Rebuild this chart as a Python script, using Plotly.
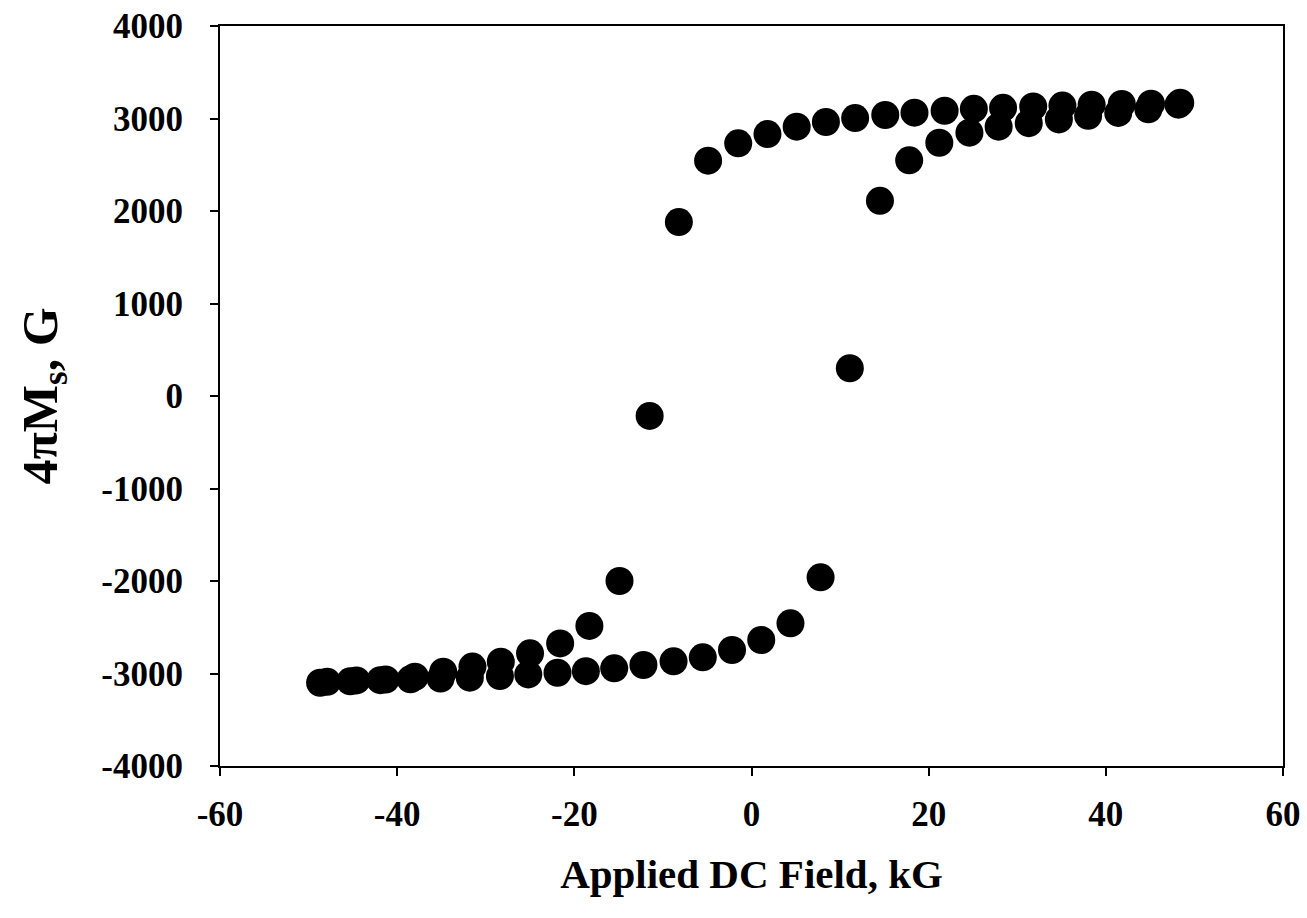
import plotly.graph_objects as go

# Descending branch (field swept from +48 kG down to -48 kG)
field_down = [48.4, 45.1, 41.8, 38.4, 35.1, 31.8, 28.4, 25.1, 21.8, 18.4, 15.1, 11.7, 8.4, 5.1, 1.8,
              -1.5, -4.9, -8.2, -11.5, -14.9, -18.3, -21.6, -25.0, -28.3, -31.5, -34.8, -38.0, -41.3, -44.6, -47.9]
mag_down = [3170, 3160, 3157, 3150, 3140, 3130, 3115, 3105, 3084, 3063, 3038, 3005, 2962, 2912, 2832,
            2732, 2544, 1880, -215, -2000, -2486, -2675, -2782, -2872, -2925, -2981, -3035, -3065, -3075, -3090]

# Ascending branch (field swept from -48 kG up to +48 kG)
field_up = [-48.7, -45.3, -41.9, -38.5, -35.1, -31.8, -28.4, -25.2, -21.9, -18.7, -15.5, -12.2, -8.8, -5.5, -2.2,
            1.1, 4.4, 7.8, 11.1, 14.5, 17.8, 21.2, 24.6, 27.9, 31.3, 34.7, 38.0, 41.4, 44.8, 48.2]
mag_up = [-3100, -3085, -3072, -3063, -3055, -3045, -3028, -3010, -2992, -2975, -2944, -2908, -2868, -2825, -2746,
          -2638, -2458, -1960, 300, 2110, 2548, 2738, 2847, 2912, 2950, 2990, 3030, 3060, 3100, 3150]

x_ticks = [-60, -40, -20, 0, 20, 40, 60]
x_tick_labels = ["-60", "-40", "-20", "0", "20", "40", "60"]
y_ticks = [-4000, -3000, -2000, -1000, 0, 1000, 2000, 3000, 4000]
y_tick_labels = ["-4000", "-3000", "-2000", "-1000", "0", "1000", "2000", "3000", "4000"]

font_family = "Liberation Serif"
marker = dict(color="black", size=28, line=dict(width=0))

fig = go.Figure()
fig.add_trace(go.Scatter(x=field_down, y=mag_down, mode="markers", marker=marker, showlegend=False))
fig.add_trace(go.Scatter(x=field_up, y=mag_up, mode="markers", marker=marker, showlegend=False))

axis_common = dict(
    showgrid=False, zeroline=False, showline=True, linecolor="black", linewidth=2,
    mirror=True, ticks="outside", ticklen=8, tickwidth=2, tickcolor="black",
    ticklabeloverflow="allow", automargin=False,
    tickfont=dict(family=font_family, size=35, color="black", weight="bold"),
)

fig.update_xaxes(
    range=[-60, 60], tickvals=x_ticks, ticktext=x_tick_labels, ticklabelstandoff=8,
    title=dict(text="Applied DC Field, kG", standoff=26,
               font=dict(family=font_family, size=41, color="black", weight="bold")),
    **axis_common,
)
fig.update_yaxes(
    range=[-4000, 4000], tickvals=y_ticks, ticktext=y_tick_labels, ticklabelstandoff=20,
    title=dict(text="4πM<sub>s</sub>, G", standoff=28,
               font=dict(family=font_family, size=50, color="black", weight="bold")),
    **axis_common,
)

fig.update_layout(
    width=1307, height=918,
    margin=dict(l=220, r=24, t=26, b=152, autoexpand=False),
    paper_bgcolor="white", plot_bgcolor="white",
)

fig.write_html("out.html", config={"displayModeBar": False},
               post_script="document.body.style.margin='0px';")
